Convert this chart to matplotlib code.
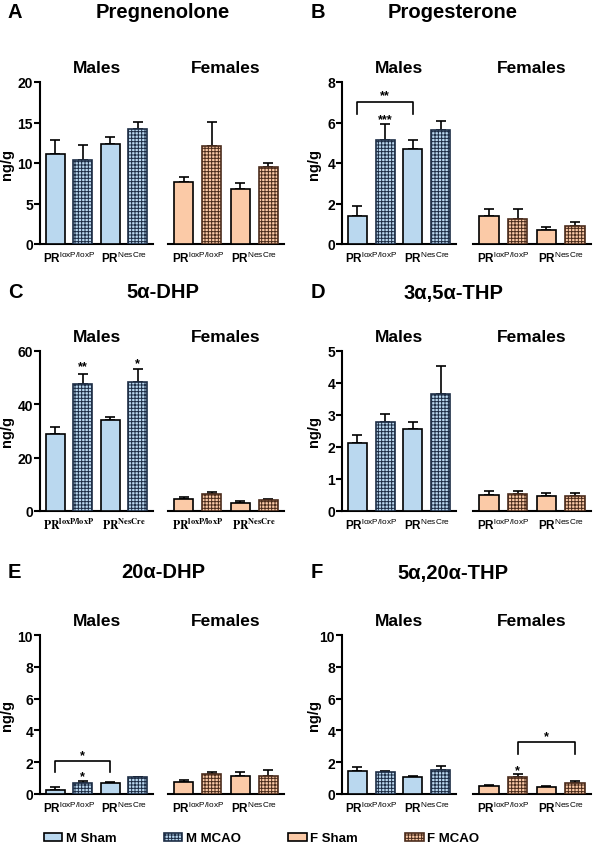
import numpy as np
import matplotlib.pyplot as plt
from matplotlib.patches import Patch

plt.rcParams['font.family'] = ['Liberation Sans', 'DejaVu Sans']
plt.rcParams['font.weight'] = 'bold'
plt.rcParams['mathtext.fontset'] = 'custom'
plt.rcParams['mathtext.rm'] = 'Liberation Sans:normal'
plt.rcParams['mathtext.bf'] = 'Liberation Sans:bold'
plt.rcParams['hatch.linewidth'] = 0.7

# bar order in every group: Sham PRloxP/loxP, MCAO PRloxP/loxP, Sham PRNesCre, MCAO PRNesCre
groups = ['Males', 'Females']
genotypes = [r'$\mathbf{PR}^{\mathrm{loxP/loxP}}$', r'$\mathbf{PR}^{\mathrm{NesCre}}$']
legend_labels = ['M Sham', 'M MCAO', 'F Sham', 'F MCAO']

titles = ['Pregnenolone', 'Progesterone', '5α-DHP', '3α,5α-THP', '20α-DHP', '5α,20α-THP']
letters = ['A', 'B', 'C', 'D', 'E', 'F']
ymax = [20, 8, 60, 5, 10, 10]
ystep = [5, 2, 20, 1, 2, 2]

preg_m = [11.1, 10.4, 12.4, 14.2]
preg_m_err = [1.7, 1.85, 0.8, 0.85]
preg_f = [7.7, 12.15, 6.8, 9.5]
preg_f_err = [0.55, 2.95, 0.7, 0.5]

prog_m = [1.4, 5.12, 4.67, 5.61]
prog_m_err = [0.5, 0.82, 0.48, 0.45]
prog_f = [1.4, 1.24, 0.69, 0.91]
prog_f_err = [0.33, 0.49, 0.14, 0.19]

dhp5_m = [29.0, 47.75, 34.0, 48.5]
dhp5_m_err = [2.5, 3.5, 1.4, 4.9]
dhp5_f = [4.6, 6.5, 3.1, 4.1]
dhp5_f_err = [0.8, 0.6, 0.65, 0.5]

thp35_m = [2.13, 2.77, 2.56, 3.67]
thp35_m_err = [0.23, 0.26, 0.23, 0.86]
thp35_f = [0.51, 0.54, 0.47, 0.47]
thp35_f_err = [0.13, 0.09, 0.1, 0.09]

dhp20_m = [0.27, 0.69, 0.67, 1.05]
dhp20_m_err = [0.15, 0.15, 0.06, 0.04]
dhp20_f = [0.73, 1.23, 1.15, 1.15]
dhp20_f_err = [0.15, 0.13, 0.21, 0.35]

thp520_m = [1.46, 1.36, 1.05, 1.5]
thp520_m_err = [0.26, 0.08, 0.1, 0.24]
thp520_f = [0.52, 1.1, 0.42, 0.67]
thp520_f_err = [0.07, 0.16, 0.06, 0.17]

males = [(preg_m, preg_m_err), (prog_m, prog_m_err), (dhp5_m, dhp5_m_err),
         (thp35_m, thp35_m_err), (dhp20_m, dhp20_m_err), (thp520_m, thp520_m_err)]
females = [(preg_f, preg_f_err), (prog_f, prog_f_err), (dhp5_f, dhp5_f_err),
           (thp35_f, thp35_f_err), (dhp20_f, dhp20_f_err), (thp520_f, thp520_f_err)]

# significance: (panel, group, bar, y, label)
stars = [(1, 0, 1, 6.0, '***'), (2, 0, 1, 53.3, '**'), (2, 0, 3, 54.4, '*'),
         (4, 0, 1, 0.96, '*'), (5, 1, 1, 1.32, '*')]
# brackets: (panel, group, bar_a, bar_b, y_top, y_end, label, label_y)
brackets = [(1, 0, 0, 2, 7.0, 6.4, '**', 7.2),
            (4, 0, 0, 2, 2.08, 1.4, '*', 2.26),
            (5, 1, 1, 3, 3.27, 2.5, '*', 3.46)]

m_sham = '#bad8ef'
f_sham = '#fbcaa7'
m_hatch = '#1d2d45'
f_hatch = '#4b2c1c'

W, H = 597, 853
fig = plt.figure(figsize=(W / 100, H / 100), dpi=100)


def frac(x0, y0, x1, y1):
    # pixel box -> figure fraction rect
    return [x0 / W, 1 - y1 / H, (x1 - x0) / W, (y1 - y0) / H]


rows = [(83, 245), (352, 512), (636, 795)]
cols = [(40, 153, 168, 284), (342, 456, 473, 591)]
title_y = [12, 293, 573]

x = np.arange(4)
for p in range(6):
    r, c = divmod(p, 2)
    top, bot = rows[r]
    ya, xm, xf0, xf1 = cols[c]
    axm = fig.add_axes(frac(ya, top, xm, bot))
    axf = fig.add_axes(frac(xf0, top, xf1, bot))
    for g, (ax, (vals, errs)) in enumerate(zip([axm, axf], [males[p], females[p]])):
        face = m_sham if g == 0 else f_sham
        hc = m_hatch if g == 0 else f_hatch
        ax.bar(x[[0, 2]], np.array(vals)[[0, 2]], width=0.68, color=face,
               edgecolor='black', linewidth=1.2, zorder=3)
        ax.bar(x[[1, 3]], np.array(vals)[[1, 3]], width=0.68, color=face,
               edgecolor=hc, hatch='+++++', linewidth=1.2, zorder=3)
        ax.errorbar(x, vals, yerr=[np.zeros(4), errs], fmt='none', ecolor='black',
                    elinewidth=1.2, capsize=3.5, capthick=1.2, zorder=2)
        ax.set_ylim(0, ymax[p])
        ax.set_xlim(-0.55, 3.55)
        for s in ['top', 'right']:
            ax.spines[s].set_visible(False)
        ax.spines['bottom'].set_linewidth(1.5)
        ax.spines['left'].set_linewidth(1.5)
        ax.set_xticks([0.5, 2.5])
        if p == 2:
            ax.set_xticklabels(genotypes, fontsize=8.5, math_fontfamily='stix')
        else:
            ax.set_xticklabels(genotypes, fontsize=8.5)
        ax.tick_params(axis='x', length=0, pad=4)
        ax.set_title(groups[g], fontsize=12.5, fontweight='bold', pad=7)
        if g == 0:
            ax.set_yticks(np.arange(0, ymax[p] + 0.1, ystep[p]))
            ax.tick_params(axis='y', length=4, width=1.5, labelsize=10, pad=1)
        else:
            ax.spines['left'].set_visible(False)
            ax.set_yticks([])
        ax.patch.set_visible(False)

    for (pp, g, b, yv, lab) in stars:
        if pp == p:
            ax = axm if g == 0 else axf
            ax.text(b, yv, lab, ha='center', va='baseline', fontsize=9, fontweight='bold')
    for (pp, g, a, b, yt, ye, lab, ly) in brackets:
        if pp == p:
            ax = axm if g == 0 else axf
            ax.plot([a, a, b, b], [ye, yt, yt, ye], color='black', lw=1.2, zorder=4,
                    clip_on=False)
            ax.text((a + b) / 2, ly, lab, ha='center', va='baseline', fontsize=9,
                    fontweight='bold')

    lx = 8 if c == 0 else 311
    tx = 163 if c == 0 else 453
    fig.text(lx / W, 1 - title_y[r] / H, letters[p], fontsize=14.5, fontweight='bold',
             ha='left', va='center')
    fig.text(tx / W, 1 - title_y[r] / H, titles[p], fontsize=14.5, fontweight='bold',
             ha='center', va='center')
    ylx = 7 if c == 0 else 314
    fig.text(ylx / W, 1 - (top + bot) / 2 / H, 'ng/g', rotation=90, fontsize=10.5,
             fontweight='bold', ha='center', va='center')

handles = [Patch(facecolor=m_sham, edgecolor='black', linewidth=1.2),
           Patch(facecolor=m_sham, edgecolor=m_hatch, hatch='+++++', linewidth=1.2),
           Patch(facecolor=f_sham, edgecolor='black', linewidth=1.2),
           Patch(facecolor=f_sham, edgecolor=f_hatch, hatch='+++++', linewidth=1.2)]
fig.legend(handles, legend_labels, loc='center', bbox_to_anchor=(0.438, 0.016), ncol=4,
           frameon=False, prop={'size': 9.5, 'weight': 'bold'}, handlelength=1.4,
           handleheight=0.6, handletextpad=0.25, columnspacing=3.6)

fig.savefig('out.png', dpi=100)
